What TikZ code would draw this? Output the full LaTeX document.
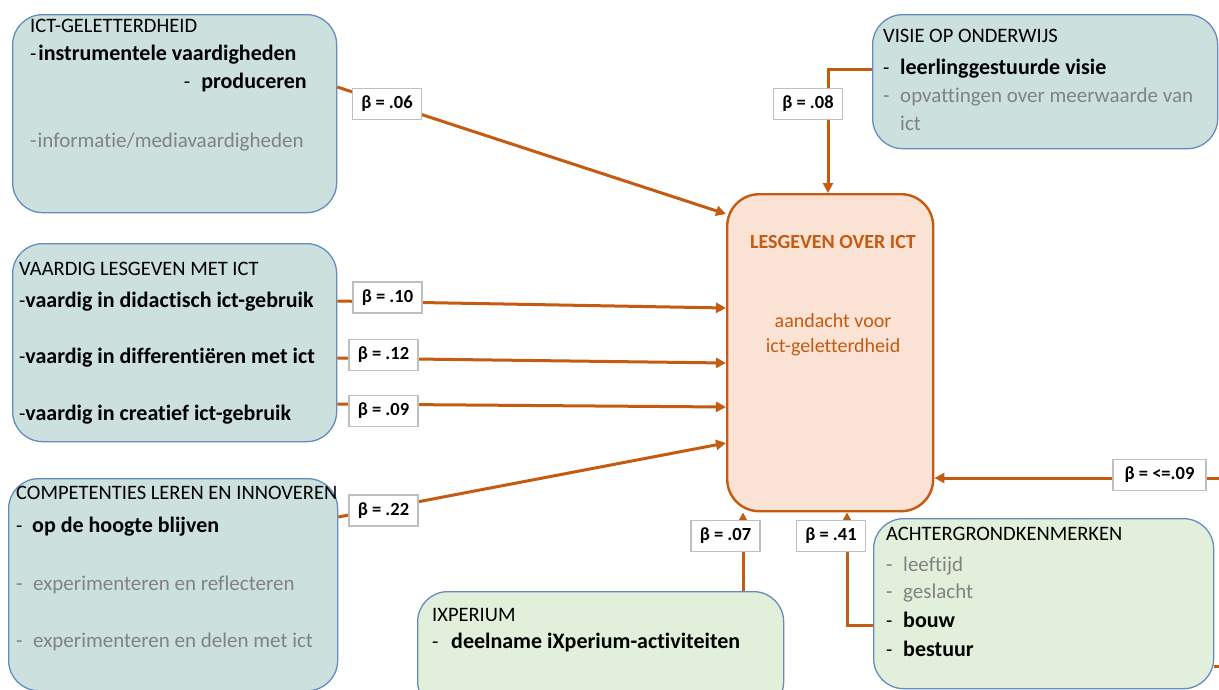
\documentclass[tikz,border=0pt]{standalone}
\usepackage{fontspec}
\setmainfont{Carlito}[Ligatures=NoCommon]
\usetikzlibrary{arrows.meta}

\definecolor{boxteal}{RGB}{204,224,222}
\definecolor{boxgreen}{RGB}{226,239,218}
\definecolor{boxedge}{RGB}{100,140,190}
\definecolor{accent}{RGB}{197,90,17}
\definecolor{corefill}{RGB}{250,227,213}
\definecolor{softtext}{RGB}{130,130,130}
\definecolor{labedge}{RGB}{191,191,191}

% dash followed by an indented item text
\newcommand{\itemdash}[1][17pt]{\makebox[#1][l]{-}}
% bold item text, set slightly larger than the plain lines
\newcommand{\keyitem}[1]{{\fontsize{22}{26}\selectfont\bfseries #1}}

\begin{document}
\begin{tikzpicture}[x=1pt,y=-1pt,
  panel/.style={draw=boxedge, line width=1.3pt, rounded corners=30pt,
                anchor=north west, inner sep=0pt},
  tpanel/.style={panel, fill=boxteal},
  gpanel/.style={panel, fill=boxgreen},
  corebox/.style={draw=accent, fill=corefill, line width=2.4pt,
                  rounded corners=32pt, anchor=north west, inner sep=0pt},
  txt/.style={anchor=base west, inner sep=0pt, font=\fontsize{20.5}{24}\selectfont},
  txtg/.style={txt, text=softtext, font=\fontsize{21}{24}\selectfont},
  coretxt/.style={anchor=base, inner sep=0pt, text=accent, font=\fontsize{20}{24}\selectfont},
  conn/.style={draw=accent, line width=3pt, -{Triangle[length=10pt,width=10pt]}},
  plainconn/.style={draw=accent, line width=3pt},
  beta/.style={draw=labedge, fill=white, line width=1.3pt, inner sep=0pt,
               minimum width=69pt, minimum height=31pt,
               font=\fontsize{18.5}{20}\selectfont\bfseries}
]
\useasboundingbox (0,0) rectangle (1219,689);
\clip (0,0) rectangle (1219,689);

% ---------- panels ----------
\node[tpanel, minimum width=324pt, minimum height=198pt] (ict) at (12,14) {};
\node[tpanel, minimum width=345pt, minimum height=134pt] (visie) at (872,14) {};
\node[tpanel, minimum width=324pt, minimum height=198pt] (vaardig) at (12,243) {};
\node[tpanel, minimum width=329pt, minimum height=212pt] (comp) at (8,478) {};
\node[gpanel, minimum width=366pt, minimum height=120pt] (ixp) at (417,591) {};
\node[gpanel, minimum width=340pt, minimum height=170pt] (achter) at (873,518) {};
\node[corebox, minimum width=206pt, minimum height=317pt] (core) at (726,193) {};

% ---------- connectors ----------
\draw[conn] (ict.east |- 0,87) -- (core.west |- 0,214);
\draw[conn] (visie.west |- 0,69) -| (828,0 |- core.north);
\draw[conn] (vaardig.east |- 0,301) -- (core.west |- 0,308);
\draw[conn] (vaardig.east |- 0,358) -- (core.west |- 0,363);
\draw[conn] (vaardig.east |- 0,404) -- (core.west |- 0,407);
\draw[conn] (comp.east |- 0,517) -- (core.west |- 0,443);
\draw[conn] (ixp.north -| 743,0) -- (743,0 |- core.south);
\draw[conn] (achter.west |- 0,625) -| (847,0 |- core.south);
\coordinate (rin) at (1219,478);
\draw[conn] (rin) -- (core.east |- rin);
\coordinate (rout) at (1219,666);
\draw[plainconn] (achter.east |- rout) -- (rout);

% ---------- coefficients ----------
\node[beta] (b06) at (387,104) {β = .06};
\node[beta] (b08) at (808,104) {β = .08};
\node[beta] (b10) at (387.5,297.5) {β = .10};
\node[beta] (b12) at (383.5,355) {β = .12};
\node[beta] (b09) at (383.5,411) {β = .09};
\node[beta] (b22) at (383.5,510.5) {β = .22};
\node[beta] (b07) at (725.5,536) {β = .07};
\node[beta] (b41) at (831,536) {β = .41};
\node[beta, minimum width=93pt] (b09r) at (1159.5,475) {β = <=.09};

% ---------- ICT-geletterdheid ----------
\node[txt] (ict-t) at (30,32) {ICT-GELETTERDHEID};
\node[txt] (ict-a) at (30,60) {-\hspace{2pt}\keyitem{instrumentele vaardigheden}};
\node[txt, anchor=base east] (ict-b) at (307,88) {-\hspace{11pt}\keyitem{produceren}};
\node[txtg] (ict-c) at (30,147) {-\hspace{1pt}informatie/mediavaardigheden};

% ---------- vaardig lesgeven ----------
\node[txt] (vl-t) at (19,275) {VAARDIG LESGEVEN MET ICT};
\node[txt] (vl-a) at (19,307) {-\keyitem{vaardig in didactisch ict-gebruik}};
\node[txt] (vl-b) at (19,363) {-\keyitem{vaardig in differentiëren met ict}};
\node[txt] (vl-c) at (19,420) {-\keyitem{vaardig in creatief ict-gebruik}};

% ---------- competenties ----------
\node[txt] (cl-t) at (16,499) {COMPETENTIES LEREN EN INNOVEREN};
\node[txt] (cl-a) at (16,532) {\itemdash[16pt]\keyitem{op de hoogte blijven}};
\node[txtg] (cl-b) at (16,590) {\itemdash[17pt]experimenteren en reflecteren};
\node[txtg] (cl-c) at (16,647) {\itemdash[17pt]experimenteren en delen met ict};

% ---------- visie ----------
\node[txt] (vo-t) at (883,42) {VISIE OP ONDERWIJS};
\node[txt] (vo-a) at (883,74) {\itemdash\keyitem{leerlinggestuurde visie}};
\node[txtg] (vo-b) at (883,102) {\itemdash opvattingen over meerwaarde van};
\node[txtg] (vo-c) at (900,130) {ict};

% ---------- iXperium ----------
\node[txt] (ix-t) at (432,621) {IXPERIUM};
\node[txt] (ix-a) at (432,648) {\itemdash[19pt]\keyitem{deelname iXperium-activiteiten}};

% ---------- achtergrondkenmerken ----------
\node[txt] (ak-t) at (886,540) {ACHTERGRONDKENMERKEN};
\node[txtg] (ak-a) at (886,571) {\itemdash leeftijd};
\node[txtg] (ak-b) at (886,598) {\itemdash geslacht};
\node[txt] (ak-c) at (886,627) {\itemdash\keyitem{bouw}};
\node[txt] (ak-d) at (886,656) {\itemdash\keyitem{bestuur}};

% ---------- outcome ----------
\node[coretxt, font=\fontsize{20}{24}\selectfont\bfseries] (co-t) at (833,248) {LESGEVEN OVER ICT};
\node[coretxt] (co-a) at (833,327) {aandacht voor};
\node[coretxt] (co-b) at (833,352) {ict-geletterdheid};
\end{tikzpicture}
\end{document}
